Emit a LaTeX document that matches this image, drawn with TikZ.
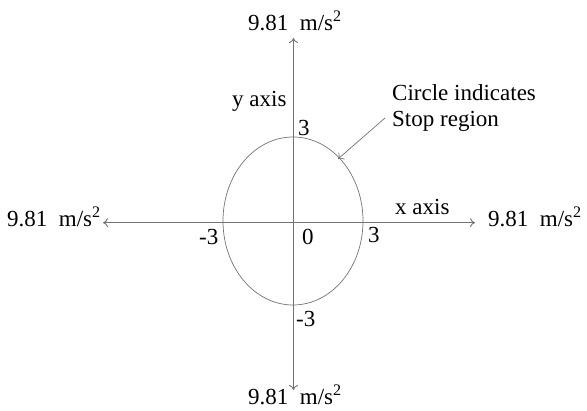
\documentclass[tikz,border=0pt]{standalone}
\usepackage{fontspec}
\setmainfont{Liberation Serif}
\usetikzlibrary{arrows.meta}
\begin{document}
\begin{tikzpicture}[x=1pt,y=1pt,
  lbl/.style={inner sep=0pt,anchor=base west,font=\fontsize{23}{26}\selectfont},
  axisline/.style={draw=black!55,line width=0.9pt},
  arr/.style={-{To[length=5pt,width=9pt]}}]
\useasboundingbox (0,0) rectangle (587,411);
% axis end points
\coordinate (top) at (293.5,373);
\coordinate (bot) at (293.5,21);
\coordinate (lft) at (103,188.3);
\coordinate (rgt) at (475,188.3);
\coordinate (org) at (293.5,188.3);
\coordinate (ctr) at (293,190);
% ellipse
\draw[draw=black!55,line width=0.7pt] (ctr) ellipse [x radius=70, y radius=84];
% axes
\draw[axisline,arr] (org) -- (top);
\draw[axisline,arr] (org) -- (bot);
\draw[axisline,arr] (org) -- (lft);
\draw[axisline,arr] (org) -- (rgt);
% labels
\node[lbl] (ltop) at (248,380) {9.81~~m/s\textsuperscript{2}};
\node[lbl] (yax) at (232,304) {y axis};
\node[lbl] (ytop) at (298,275) {3};
\node[lbl] (c1) at (392,310.3) {Circle indicates};
\node[lbl] (c2) at (392,284.3) {Stop region};
\node[lbl] (llft) at (7,184.3) {9.81~~m/s\textsuperscript{2}};
\node[lbl] (xl) at (199,166) {-3};
\node[lbl] (zero) at (302,166) {0};
\node[lbl] (xr) at (368,168) {3};
\node[lbl] (xax) at (395,196) {x axis};
\node[lbl] (lrgt) at (488,184) {9.81~~m/s\textsuperscript{2}};
\node[lbl] (yb) at (296,84) {-3};
\node[lbl] (lbot) at (248,6) {9.81~~m/s\textsuperscript{2}};
% pointer arrow
\coordinate (ps) at (385,293);
\coordinate (pe) at (338,252);
\draw[draw=black!55,line width=0.7pt,arr] (ps) -- (pe);
\end{tikzpicture}
\end{document}
